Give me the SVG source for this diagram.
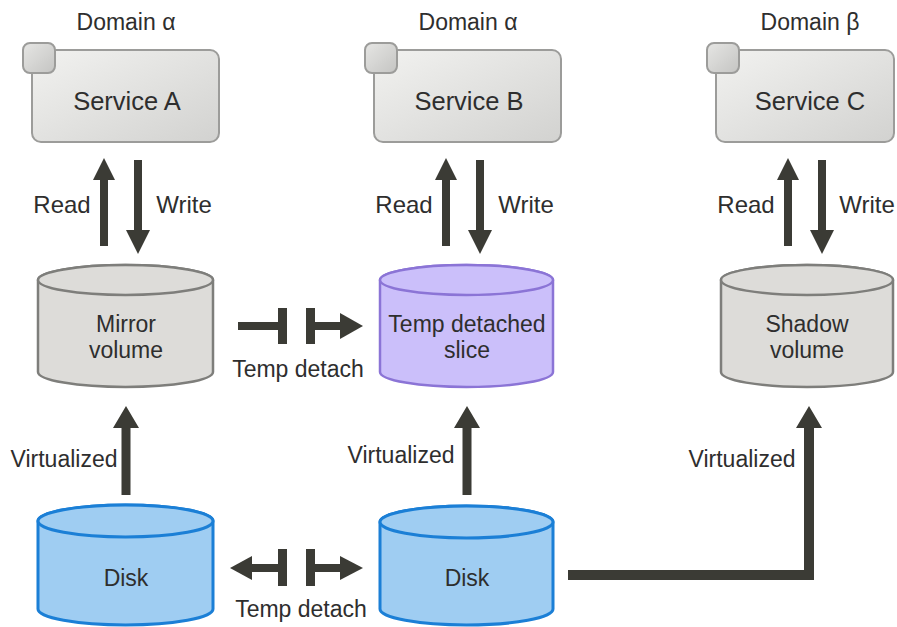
<svg xmlns="http://www.w3.org/2000/svg" width="897" height="627" viewBox="0 0 897 627">
<defs>
<linearGradient id="svc" x1="0" y1="0" x2="1" y2="1">
<stop offset="0" stop-color="#f2f2f0"/>
<stop offset="1" stop-color="#d2d2d0"/>
</linearGradient>
<linearGradient id="tab" x1="0" y1="0" x2="1" y2="1">
<stop offset="0" stop-color="#e6e6e4"/>
<stop offset="1" stop-color="#c4c4c2"/>
</linearGradient>
</defs>
<style>
text{font-family:"Liberation Sans",Arial,sans-serif;fill:#2e2e2e;text-anchor:middle;}
.lbl{font-size:23px;}
.rw{font-size:24px;}
.dom{font-size:23px;}
.svc{font-size:25.5px;}
.box{fill:url(#svc);stroke:#9c9c9a;stroke-width:2;}
.tab{fill:url(#tab);stroke:#9c9c9a;stroke-width:2;}
.gray{fill:#dddcd9;stroke:#7e7e7b;stroke-width:2.5;}
.purple{fill:#cbbffa;stroke:#8b74d6;stroke-width:2.5;}
.blue{fill:#9fcdf2;stroke:#1b7fd6;stroke-width:3;}
.arr{fill:#3b3b35;}
</style>

<g id="serviceA">
<text class="dom" x="126" y="30">Domain α</text>
<rect class="box" x="32" y="50" width="187" height="92" rx="9"/>
<rect class="tab" x="23" y="43" width="32" height="30" rx="7"/>
<text class="svc" x="127" y="110">Service A</text>
</g>
<g id="serviceB">
<text class="dom" x="468" y="30">Domain α</text>
<rect class="box" x="374" y="50" width="187" height="92" rx="9"/>
<rect class="tab" x="365" y="43" width="32" height="30" rx="7"/>
<text class="svc" x="469" y="110">Service B</text>
</g>
<g id="serviceC">
<text class="dom" x="810" y="30">Domain β</text>
<rect class="box" x="716" y="50" width="178" height="92" rx="9"/>
<rect class="tab" x="707" y="43" width="32" height="30" rx="7"/>
<text class="svc" x="810" y="110">Service C</text>
</g>

<g id="mirror">
<path class="gray" d="M38,280 A87.5,15 0 0 1 213,280 L213,372 A87.5,15 0 0 1 38,372 Z"/>
<ellipse class="gray" cx="125.5" cy="280" rx="87.5" ry="15"/>
<text class="lbl" x="126" y="332">Mirror</text>
<text class="lbl" x="126" y="358">volume</text>
</g>
<g id="slice">
<path class="purple" d="M380,280 A86.5,15 0 0 1 553,280 L553,372 A86.5,15 0 0 1 380,372 Z"/>
<ellipse class="purple" cx="466.5" cy="280" rx="86.5" ry="15"/>
<text class="lbl" x="467" y="332">Temp detached</text>
<text class="lbl" x="467" y="358">slice</text>
</g>
<g id="shadow">
<path class="gray" d="M721,280 A86,15 0 0 1 893,280 L893,372 A86,15 0 0 1 721,372 Z"/>
<ellipse class="gray" cx="807" cy="280" rx="86" ry="15"/>
<text class="lbl" x="807" y="332">Shadow</text>
<text class="lbl" x="807" y="358">volume</text>
</g>
<g id="disk1">
<path class="blue" d="M38,521 A87.5,16 0 0 1 213,521 L213,609 A87.5,16 0 0 1 38,609 Z"/>
<ellipse class="blue" cx="125.5" cy="521" rx="87.5" ry="16"/>
<text class="lbl" x="126" y="586">Disk</text>
</g>
<g id="disk2">
<path class="blue" d="M380,522 A86.5,16 0 0 1 553,522 L553,609 A86.5,16 0 0 1 380,609 Z"/>
<ellipse class="blue" cx="466.5" cy="522" rx="86.5" ry="16"/>
<text class="lbl" x="467" y="586">Disk</text>
</g>

<g id="connectors">
<path class="arr" d="M100,246 L100,180 L93,180 L104,158 L115,180 L108,180 L108,246 Z"/>
<path class="arr" d="M134,160 L142,160 L142,230 L150,230 L138,254 L126,230 L134,230 Z"/>
<path class="arr" d="M442,246 L442,180 L435,180 L446,158 L457,180 L450,180 L450,246 Z"/>
<path class="arr" d="M476,160 L484,160 L484,230 L492,230 L480,254 L468,230 L476,230 Z"/>
<path class="arr" d="M784,246 L784,180 L777,180 L788,158 L799,180 L792,180 L792,246 Z"/>
<path class="arr" d="M818,160 L826,160 L826,230 L834,230 L822,254 L810,230 L818,230 Z"/>
<path class="arr" d="M121.5,495 L121.5,428 L113,428 L126,406 L139,428 L130.5,428 L130.5,495 Z"/>
<path class="arr" d="M462.5,495 L462.5,428 L454,428 L467,406 L480,428 L471.5,428 L471.5,495 Z"/>
<path class="arr" d="M568,570 L804,570 L804,428 L796,428 L809,406 L822,428 L814,428 L814,580 L568,580 Z"/>
<rect class="arr" x="238" y="322" width="44" height="8"/>
<rect class="arr" x="278" y="308" width="9" height="36"/>
<rect class="arr" x="306" y="308" width="9" height="36"/>
<rect class="arr" x="314" y="322" width="28" height="8"/>
<path class="arr" d="M340,313 L363,326 L340,339 Z"/>
<path class="arr" d="M230,568 L252,556 L252,580 Z"/>
<rect class="arr" x="250" y="564" width="32" height="8"/>
<rect class="arr" x="278" y="549" width="9" height="37"/>
<rect class="arr" x="306" y="549" width="9" height="37"/>
<rect class="arr" x="314" y="564" width="28" height="8"/>
<path class="arr" d="M340,556 L363,568 L340,580 Z"/>
<text class="rw" x="62" y="213">Read</text>
<text class="rw" x="184" y="213">Write</text>
<text class="rw" x="404" y="213">Read</text>
<text class="rw" x="526" y="213">Write</text>
<text class="rw" x="746" y="213">Read</text>
<text class="rw" x="867" y="213">Write</text>
<text class="lbl" x="298" y="377">Temp detach</text>
<text class="lbl" x="301" y="617">Temp detach</text>
<text class="lbl" x="64" y="467">Virtualized</text>
<text class="lbl" x="401" y="463">Virtualized</text>
<text class="lbl" x="742" y="467">Virtualized</text>
</g>
</svg>
